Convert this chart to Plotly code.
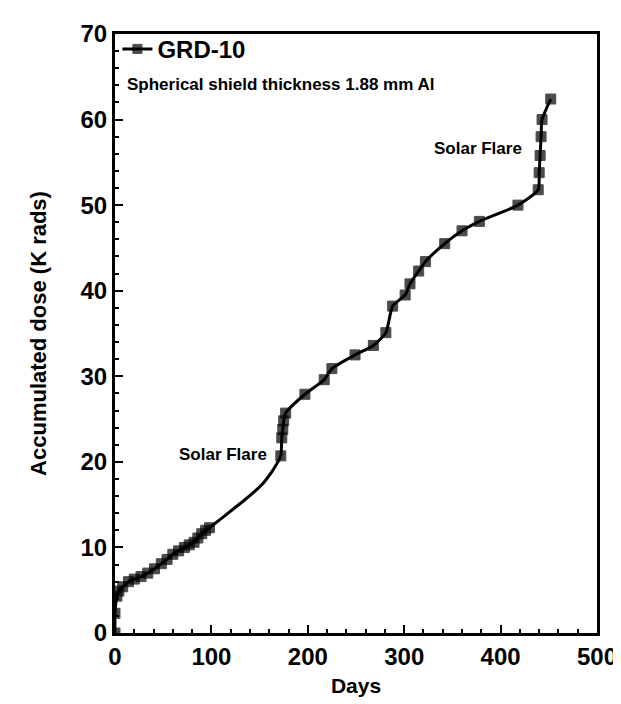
import plotly.graph_objects as go

# Path of the GRD-10 curve (days, accumulated dose in K rads); marked = 1 where a square marker is drawn
days = [0, 0, 2, 4, 8, 14, 20, 27, 34, 41, 48, 54, 60, 66, 72, 77, 82, 86, 90, 94, 98,
        115, 135, 152, 163, 168,
        172, 173, 174, 175, 177, 197, 217, 225, 249, 268, 281, 288, 301, 306, 315, 322,
        342, 360, 378, 418, 439, 440, 441, 442, 443, 452]
dose = [0, 2.3, 4.3, 4.9, 5.4, 6.0, 6.3, 6.6, 7.0, 7.5, 8.1, 8.6, 9.2, 9.6, 10.0, 10.3, 10.6, 11.1, 11.6, 12.0, 12.3,
        13.8, 15.6, 17.3, 18.9, 19.8,
        20.7, 22.8, 23.8, 24.8, 25.7, 27.9, 29.6, 30.9, 32.5, 33.6, 35.1, 38.2, 39.5, 40.8, 42.3, 43.4,
        45.5, 47.0, 48.1, 50.0, 51.8, 53.8, 55.8, 58.0, 60.0, 62.4]
marked = [1] * 21 + [0] * 5 + [1] * 26

series_name = "GRD-10"
subtitle = "Spherical shield thickness 1.88 mm Al"
flare_label = "Solar Flare"
flare_positions = [(160, 20.9), (424, 56.6)]

x_ticks = [0, 100, 200, 300, 400, 500]
y_ticks = [0, 10, 20, 30, 40, 50, 60, 70]

FONT = "Liberation Sans, Arial, sans-serif"

fig = go.Figure()
fig.add_trace(go.Scatter(
    x=days, y=dose, name=series_name, mode="lines+markers",
    line=dict(color="black", width=3, shape="spline", smoothing=0.6),
    marker=dict(symbol="square", color="black", size=[10 if m else 0 for m in marked],
                line=dict(color="black", width=1)),
))

for fx, fy in flare_positions:
    fig.add_annotation(x=fx, y=fy, text=flare_label, showarrow=False, xanchor="right",
                       yanchor="middle", font=dict(family=FONT, size=17, color="black", weight="bold"))

fig.add_annotation(x=0.02, y=0.915, xref="paper", yref="paper", text=subtitle, showarrow=False,
                   xanchor="left", yanchor="middle",
                   font=dict(family=FONT, size=17, color="black", weight="bold"))

fig.update_layout(
    width=621, height=704,
    margin=dict(l=107, r=23, t=19, b=79),
    paper_bgcolor="white", plot_bgcolor="white",
    font=dict(family=FONT, color="black"),
    showlegend=True,
    legend=dict(x=0.005, y=1.012, xanchor="left", yanchor="top", bgcolor="rgba(0,0,0,0)",
                font=dict(family=FONT, size=24, color="black", weight="bold"),
                itemwidth=30, tracegroupgap=0),
)
fig.update_xaxes(
    range=[0, 500], tickvals=x_ticks, ticks="inside", ticklen=8, tickwidth=2, tickcolor="black",
    showline=True, linecolor="black", linewidth=3, mirror=True, showgrid=False, zeroline=False,
    minor=dict(dtick=20, ticks="inside", ticklen=4, tickcolor="black", tickwidth=1.5),
    tickfont=dict(family=FONT, size=24, weight="bold"),
    title=dict(text="Days", font=dict(family=FONT, size=21, weight="bold"), standoff=10),
)
fig.update_yaxes(
    range=[0, 70], tickvals=y_ticks, ticks="inside", ticklen=8, tickwidth=2, tickcolor="black",
    showline=True, linecolor="black", linewidth=3, mirror=True, showgrid=False, zeroline=False,
    minor=dict(dtick=2, ticks="inside", ticklen=4, tickcolor="black", tickwidth=1.5),
    tickfont=dict(family=FONT, size=24, weight="bold"),
    title=dict(text="Accumulated dose (K rads)", font=dict(family=FONT, size=22, weight="bold"), standoff=28),
)

fig.write_html("out.html")
